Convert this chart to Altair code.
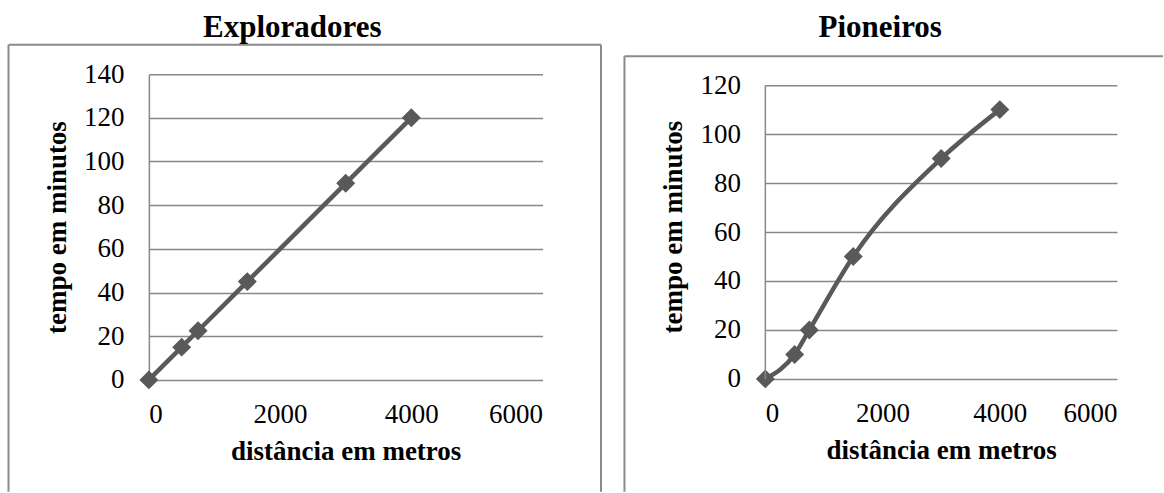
import altair as alt
import pandas as pd

# ---- data ----
expl_dist = [0, 500, 750, 1500, 3000, 4000]
expl_time = [0, 15, 22.5, 45, 90, 120]
pion_dist = [0, 500, 750, 1500, 3000, 4000]
pion_time = [0, 10, 20, 50, 90, 110]

x_ticks = [0, 2000, 4000, 6000]
expl_y_ticks = [0, 20, 40, 60, 80, 100, 120, 140]
pion_y_ticks = [0, 20, 40, 60, 80, 100, 120]

titles = ["Exploradores", "Pioneiros"]
x_title = "distância em metros"
y_title = "tempo em minutos"

# ---- styling ----
FONT = "Liberation Serif"
LINE = "#595959"
GRID = "#888888"
FRAME = "#8a8a8a"


def panel(dist, time, y_ticks, y_top, title, w, h, frame, title_pos, draw_domain):
    df = pd.DataFrame({"d": dist, "t": time})
    x = alt.X("d:Q", scale=alt.Scale(domain=[0, 6000], nice=False),
              axis=alt.Axis(values=x_ticks, format="d", title=x_title,
                            grid=False, domain=False, ticks=False,
                            labelPadding=22, titlePadding=11))
    y = alt.Y("t:Q", scale=alt.Scale(domain=[0, y_top], nice=False),
              axis=alt.Axis(values=y_ticks, format="d", title=y_title,
                            grid=True, domain=draw_domain, ticks=False,
                            labelPadding=25, titlePadding=12))
    base = alt.Chart(df)
    line = base.mark_line(color=LINE, strokeWidth=4.5, interpolate="monotone").encode(x=x, y=y)
    pts = base.mark_point(shape="diamond", filled=True, size=360, color=LINE,
                          opacity=1).encode(x="d:Q", y="t:Q")
    one = alt.Data(values=[{"k": 0}])
    layers = [line, pts]
    if not draw_domain:
        # vertical axis line from the first to the last tick only
        layers.append(alt.Chart(one).mark_rule(color=GRID, strokeWidth=1.5).encode(
            x=alt.value(0), y=alt.datum(y_ticks[0]), y2=alt.datum(y_ticks[-1])))
    for seg in frame:
        enc = {k: alt.value(v) for k, v in seg.items()}
        layers.append(alt.Chart(one).mark_rule(color=FRAME, strokeWidth=2).encode(**enc))
    tdf = pd.DataFrame({"label": [title]})
    layers.append(
        alt.Chart(tdf).mark_text(font=FONT, fontSize=31, fontWeight="bold",
                                 align="center", baseline="alphabetic",
                                 color="black").encode(
            text="label:N", x=alt.value(title_pos[0]), y=alt.value(title_pos[1]))
    )
    return alt.layer(*layers).properties(width=w, height=h)


left = panel(
    expl_dist, expl_time, expl_y_ticks, 140, titles[0], 394, 306,
    frame=[
        {"x": -140.5, "x2": 452.5, "y": -29.5},
        {"x": -140.5, "y": -29.5, "y2": 418},
        {"x": 452.5, "y": -29.5, "y2": 418},
    ],
    title_pos=(143.5, -37),
    draw_domain=True,
)

# right plot: gridline 120 sits 11 px below the left plot's top; the view is
# 305 px tall with 294 px spanning 0..120
right = panel(
    pion_dist, pion_time, pion_y_ticks, 120 * 305 / 294, titles[1], 352, 305,
    frame=[
        {"x": -141, "x2": 398, "y": -18},
        {"x": -141, "y": -18, "y2": 418},
    ],
    title_pos=(115, -37),
    draw_domain=False,
)

chart = alt.hconcat(left, right, spacing=21).properties(
    padding={"left": 7, "top": 12, "right": 0, "bottom": 0},
    background="white",
).configure_view(stroke=None).configure_axis(
    labelFont=FONT, labelFontSize=27, labelColor="black",
    titleFont=FONT, titleFontSize=27, titleFontWeight="bold", titleColor="black",
    gridColor=GRID, gridWidth=1.5, domainColor=GRID, domainWidth=1.5,
    gridOpacity=1,
)

chart.save("out.html", embed_options={"renderer": "svg", "actions": False})
